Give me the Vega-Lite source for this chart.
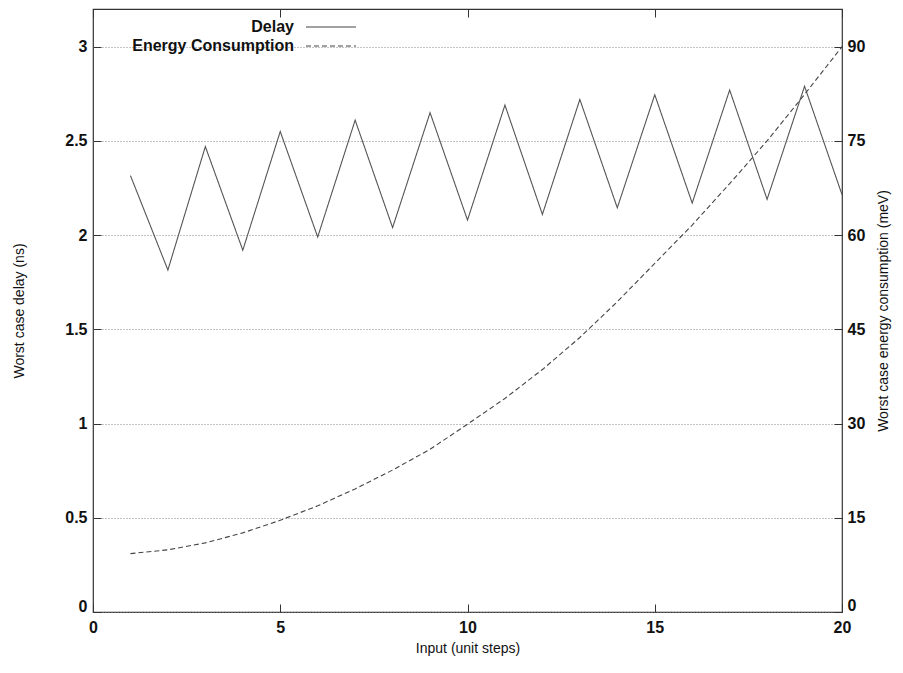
{
  "$schema": "https://vega.github.io/schema/vega-lite/v6.json",
  "width": 749,
  "height": 603,
  "autosize": {"type": "none"},
  "padding": {"left": 93, "top": 9, "right": 61, "bottom": 61},
  "background": "white",
  "config": {
    "font": "Liberation Sans",
    "view": {"stroke": "#333", "strokeWidth": 1.2},
    "axis": {
      "labelFont": "Liberation Sans",
      "titleFont": "Liberation Sans",
      "labelFontSize": 16,
      "labelFontWeight": "bold",
      "labelColor": "#111",
      "titleFontSize": 14,
      "titleFontWeight": "normal",
      "titleColor": "#111",
      "domain": false,
      "tickColor": "#333",
      "tickSize": -8,
      "labelFlush": false
    }
  },
  "data": {
    "values": [
      {"x": 1, "delay": 2.316, "energy": 9.3},
      {"x": 2, "delay": 1.815, "energy": 9.9},
      {"x": 3, "delay": 2.47, "energy": 11.0},
      {"x": 4, "delay": 1.92, "energy": 12.6},
      {"x": 5, "delay": 2.55, "energy": 14.6},
      {"x": 6, "delay": 1.99, "energy": 16.9},
      {"x": 7, "delay": 2.61, "energy": 19.6},
      {"x": 8, "delay": 2.04, "energy": 22.6},
      {"x": 9, "delay": 2.65, "energy": 25.9},
      {"x": 10, "delay": 2.08, "energy": 29.9},
      {"x": 11, "delay": 2.69, "energy": 34.0},
      {"x": 12, "delay": 2.11, "energy": 38.6},
      {"x": 13, "delay": 2.72, "energy": 43.7},
      {"x": 14, "delay": 2.145, "energy": 49.4},
      {"x": 15, "delay": 2.745, "energy": 55.5},
      {"x": 16, "delay": 2.17, "energy": 61.6},
      {"x": 17, "delay": 2.77, "energy": 68.2},
      {"x": 18, "delay": 2.19, "energy": 75.0},
      {"x": 19, "delay": 2.79, "energy": 82.4},
      {"x": 20, "delay": 2.215, "energy": 90.0}
    ]
  },
  "layer": [
    {
      "mark": {"type": "line", "color": "#555", "strokeWidth": 1.1},
      "encoding": {
        "x": {
          "field": "x", "type": "quantitative",
          "scale": {"domain": [0, 20], "nice": false},
          "axis": {"orient": "bottom", "values": [0, 5, 10, 15, 20], "title": "Input (unit steps)", "labelPadding": 15, "titlePadding": 6, "grid": false}
        },
        "y": {
          "field": "delay", "type": "quantitative",
          "scale": {"domain": [0, 3.2], "nice": false},
          "axis": {"orient": "left", "values": [0, 0.5, 1, 1.5, 2, 2.5, 3], "format": ".1~f", "title": "Worst case delay (ns)", "labelPadding": 14, "titlePadding": 38,
            "labelOffset": {"condition": {"test": "datum.value == 0", "value": -6}, "value": 0},
            "grid": true, "gridDash": [1, 2], "gridColor": "#888", "gridWidth": 1}
        },
        "strokeDash": {
          "datum": "Delay", "type": "nominal",
          "scale": {"domain": ["Delay", "Energy Consumption"], "range": [[1, 0], [5, 3]]},
          "legend": {
            "orient": "none", "legendX": 227, "legendY": 7, "title": null,
            "symbolType": "M-2.5,0H2.5", "symbolSize": 400, "symbolStrokeWidth": 1.1, "symbolStrokeColor": "#444",
            "labelAlign": "right", "labelOffset": -48, "labelFontSize": 16, "labelFontWeight": "bold", "labelColor": "#111",
            "labelFont": "Liberation Sans", "labelLimit": 400, "rowPadding": 0
          }
        }
      }
    },
    {
      "mark": {"type": "line", "color": "#444", "strokeWidth": 1.1},
      "encoding": {
        "x": {
          "field": "x", "type": "quantitative",
          "scale": {"domain": [0, 20], "nice": false},
          "axis": {"orient": "top", "values": [0, 5, 10, 15, 20], "labels": false, "title": null, "grid": false}
        },
        "y": {
          "field": "energy", "type": "quantitative",
          "scale": {"domain": [0, 96], "nice": false},
          "axis": {"orient": "right", "values": [0, 15, 30, 45, 60, 75, 90], "title": "Worst case energy consumption (meV)", "titleAngle": 270, "labelPadding": 13, "titlePadding": 26,
            "labelOffset": {"condition": {"test": "datum.value == 0", "value": -7}, "value": 0},
            "grid": false}
        },
        "strokeDash": {"datum": "Energy Consumption", "type": "nominal"}
      }
    }
  ],
  "resolve": {"scale": {"y": "independent", "x": "independent"}, "axis": {"x": "independent"}}
}
